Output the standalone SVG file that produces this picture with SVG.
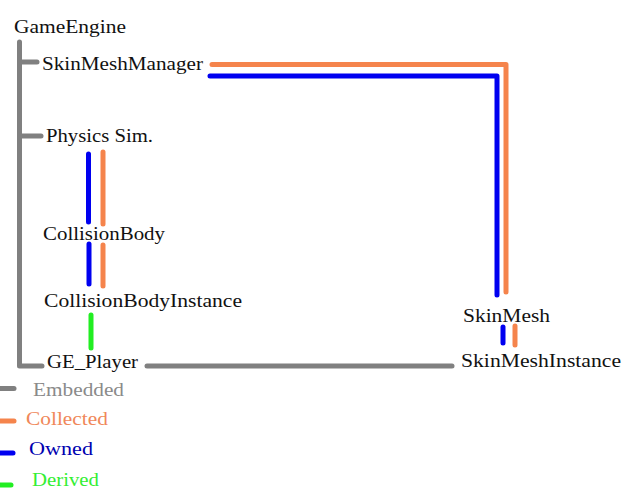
<svg xmlns="http://www.w3.org/2000/svg" width="631" height="490" viewBox="0 0 631 490">
<style>
  .t { font-family: Liberation Serif, Tinos, Times New Roman, Times, DejaVu Serif, serif; font-size: 19px; fill: #111; }
  .ln { fill: none; stroke-width: 5; stroke-linecap: round; stroke-linejoin: round; }
  .emb { stroke: #808080; }
  .col { stroke: #f5844c; }
  .own { stroke: #0000f0; }
  .der { stroke: #22ee22; }
</style>
<rect width="631" height="490" fill="#ffffff"/>
<g id="connectors">
  <path class="ln emb" d="M19.5,42 V366 H42"/>
  <path class="ln emb" d="M19.5,62 H37"/>
  <path class="ln emb" d="M19.5,136 H41"/>
  <path class="ln emb" d="M147,366 H452"/>
  <path class="ln col" d="M212,64.5 H506 V292"/>
  <path class="ln own" d="M210,76 H497 V295"/>
  <path class="ln own" d="M88.5,154 V222"/>
  <path class="ln col" d="M103,152 V224"/>
  <path class="ln own" d="M89,244 V284"/>
  <path class="ln col" d="M103,245 V286"/>
  <path class="ln der" d="M91,315 V348"/>
  <path class="ln own" d="M503,327 V343"/>
  <path class="ln col" d="M515,326 V345"/>
</g>
<g id="GameEngine"><text class="t" x="14" y="33" textLength="112" lengthAdjust="spacingAndGlyphs">GameEngine</text></g>
<g id="SkinMeshManager"><text class="t" x="42" y="70" textLength="161" lengthAdjust="spacingAndGlyphs">SkinMeshManager</text></g>
<g id="PhysicsSim"><text class="t" x="46" y="142" textLength="107" lengthAdjust="spacingAndGlyphs">Physics Sim.</text></g>
<g id="CollisionBody"><text class="t" x="43" y="240" textLength="122" lengthAdjust="spacingAndGlyphs">CollisionBody</text></g>
<g id="CollisionBodyInstance"><text class="t" x="44" y="307" textLength="198" lengthAdjust="spacingAndGlyphs">CollisionBodyInstance</text></g>
<g id="GE_Player"><text class="t" x="47" y="368" textLength="91" lengthAdjust="spacingAndGlyphs">GE_Player</text></g>
<g id="SkinMesh"><text class="t" x="463" y="322" textLength="87" lengthAdjust="spacingAndGlyphs">SkinMesh</text></g>
<g id="SkinMeshInstance"><text class="t" x="461" y="367" textLength="160" lengthAdjust="spacingAndGlyphs">SkinMeshInstance</text></g>
<g id="legend">
  <path class="ln emb" d="M0,388.5 H14"/>
  <text class="t" x="33" y="396" textLength="91" lengthAdjust="spacingAndGlyphs" style="fill:#8a8a8a">Embedded</text>
  <path class="ln col" d="M0,421 H14"/>
  <text class="t" x="26" y="425" textLength="82" lengthAdjust="spacingAndGlyphs" style="fill:#f0885a">Collected</text>
  <path class="ln own" d="M0,453 H13"/>
  <text class="t" x="29" y="455" textLength="64" lengthAdjust="spacingAndGlyphs" style="fill:#0000b0">Owned</text>
  <path class="ln der" d="M0,485 H11"/>
  <text class="t" x="32" y="486" textLength="67" lengthAdjust="spacingAndGlyphs" style="fill:#33ee33">Derived</text>
</g>
</svg>
